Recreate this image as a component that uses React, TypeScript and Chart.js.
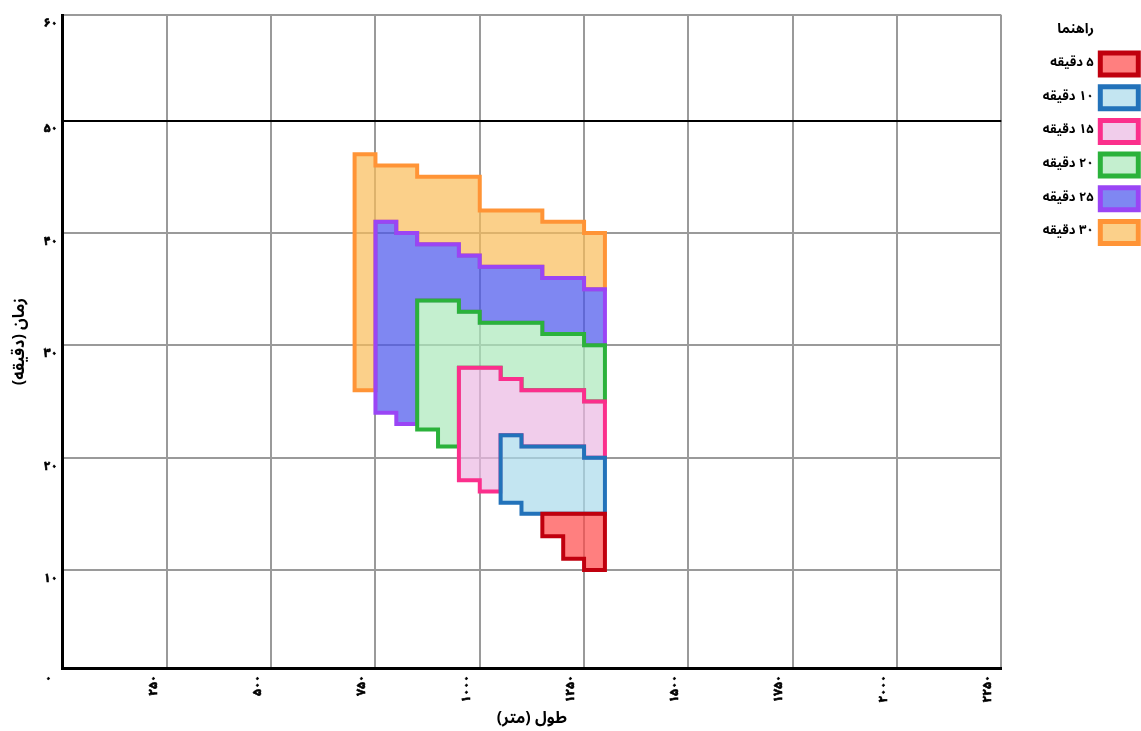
import React, { useEffect, useRef } from 'react';
import { Chart, registerables } from 'chart.js';

Chart.register(...registerables);

const FONT = '"Noto Sans Arabic", "Noto Naskh Arabic", Vazirmatn, "DejaVu Sans", sans-serif';

// distance bins (metres), each 50 m wide
const binStarts = [700, 750, 800, 850, 900, 950, 1000, 1050, 1100, 1150, 1200, 1250];
const binWidth = 50;

const seriesLabels = ['۵ دقیقه', '۱۰ دقیقه', '۱۵ دقیقه', '۲۰ دقیقه', '۲۵ دقیقه', '۳۰ دقیقه'];

const N = null;
// upper / lower time (minutes) of each band per distance bin
const top5 = [N, N, N, N, N, N, N, N, N, 15, 15, 15];
const bottom5 = [N, N, N, N, N, N, N, N, N, 13, 11, 10];
const top10 = [N, N, N, N, N, N, N, 22, 21, 21, 21, 20];
const bottom10 = [N, N, N, N, N, N, N, 16, 15, 15, 15, 15];
const top15 = [N, N, N, N, N, 28, 28, 27, 26, 26, 26, 25];
const bottom15 = [N, N, N, N, N, 18, 17, 22, 21, 21, 21, 20];
const top20 = [N, N, N, 34, 34, 33, 32, 32, 32, 31, 31, 30];
const bottom20 = [N, N, N, 22.5, 21, 28, 28, 27, 26, 26, 26, 25];
const top25 = [N, 41, 40, 39, 39, 38, 37, 37, 37, 36, 36, 35];
const bottom25 = [N, 24, 23, 34, 34, 33, 32, 32, 32, 31, 31, 30];
const top30 = [47, 46, 46, 45, 45, 45, 42, 42, 42, 41, 41, 40];
const bottom30 = [26, 41, 40, 39, 39, 38, 37, 37, 37, 36, 36, 35];

const borderColors = ['#c0000e', '#2272ba', '#fb2f8c', '#2bb23b', '#9a45f5', '#ff9436'];
const fillColors = [
  'rgba(255,72,72,0.7)',
  'rgba(169,218,235,0.7)',
  'rgba(235,184,226,0.7)',
  'rgba(171,232,186,0.7)',
  'rgba(72,84,236,0.7)',
  'rgba(249,188,88,0.7)',
];

const xTickValues = [0, 250, 500, 750, 1000, 1250, 1500, 1750, 2000, 2250];
const xTickLabels = ['۰', '۲۵۰', '۵۰۰', '۷۵۰', '۱۰۰۰', '۱۲۵۰', '۱۵۰۰', '۱۷۵۰', '۲۰۰۰', '۲۲۵۰'];
const yMin = 1.27;
const yMax = 59.4;
const yTickValues = [10, 20, 30, 40, 50, yMax];
const yTickLabels = ['۱۰', '۲۰', '۳۰', '۴۰', '۵۰', '۶۰'];

const xTitle = 'طول (متر)';
const yTitle = 'زمان (دقیقه)';
const legendTitle = 'راهنما';

type Pt = { x: number; y: number };

function outline(top: (number | null)[], bottom: (number | null)[]): Pt[] {
  const idx: number[] = [];
  top.forEach((v, i) => { if (v !== null) idx.push(i); });
  const raw: Pt[] = [];
  const first = idx[0];
  raw.push({ x: binStarts[first], y: bottom[first] as number });
  for (const i of idx) {
    raw.push({ x: binStarts[i], y: top[i] as number });
    raw.push({ x: binStarts[i] + binWidth, y: top[i] as number });
  }
  for (const i of [...idx].reverse()) {
    raw.push({ x: binStarts[i] + binWidth, y: bottom[i] as number });
    raw.push({ x: binStarts[i], y: bottom[i] as number });
  }
  const pts: Pt[] = [];
  for (const p of raw) {
    const last = pts[pts.length - 1];
    if (!last || last.x !== p.x || last.y !== p.y) pts.push(p);
  }
  return pts;
}

const bands = [
  [top5, bottom5],
  [top10, bottom10],
  [top15, bottom15],
  [top20, bottom20],
  [top25, bottom25],
  [top30, bottom30],
];

const LEGEND_WIDTH = 148.7;

const legendWidthPlugin = {
  id: 'legendWidth',
  beforeUpdate(chart: any) {
    const lg = chart.legend;
    if (lg && !lg.__patched) {
      const orig = lg.fit;
      lg.fit = function () {
        orig.call(this);
        this.width = LEGEND_WIDTH;
      };
      lg.__patched = true;
    }
  },
};

export default function App() {
  const ref = useRef<HTMLCanvasElement>(null);
  useEffect(() => {
    document.body.style.margin = '0';
    const datasets = bands.map(([t, b], k) => ({
      label: seriesLabels[k],
      data: outline(t, b),
      borderColor: borderColors[k],
      backgroundColor: fillColors[k],
      borderWidth: 4,
      fill: 'shape',
      pointRadius: 0,
      pointHoverRadius: 0,
      tension: 0,
      borderJoinStyle: 'miter',
      borderCapStyle: 'square',
    }));
    const chart = new Chart(ref.current as HTMLCanvasElement, {
      type: 'line',
      data: { datasets } as any,
      plugins: [legendWidthPlugin],
      options: {
        responsive: false,
        animation: false,
        events: [],
        layout: { padding: { top: 15, left: 0, right: -9, bottom: 0.4 } },
        plugins: {
          tooltip: { enabled: false },
          legend: {
            position: 'right',
            align: 'start',
            rtl: true,
            textDirection: 'rtl',
            title: {
              display: true,
              text: legendTitle,
              color: '#000',
              font: { family: FONT, size: 14, weight: 'bold' },
              padding: { top: 9, bottom: 0.5 },
            },
            labels: {
              boxWidth: 38,
              boxHeight: 22,
              padding: 11.7,
              color: '#000',
              font: { family: FONT, size: 13, weight: 'bold' },
              generateLabels: (c: any) =>
                (Chart.defaults.plugins.legend.labels.generateLabels as any)(c).map((l: any) => ({ ...l, lineWidth: 5 })),
            },
          },
        },
        scales: {
          x: {
            type: 'linear',
            min: 0,
            max: 2250,
            afterBuildTicks: (axis: any) => { axis.ticks = xTickValues.map((v) => ({ value: v })); },
            grid: { color: '#9a9a9a', lineWidth: 2, drawTicks: false },
            border: { color: '#000', width: 3 },
            ticks: {
              autoSkip: false,
              maxRotation: 90,
              minRotation: 90,
              labelOffset: -12,
              padding: 7,
              color: '#000',
              textStrokeColor: '#000',
              textStrokeWidth: 0.6,
              font: { family: FONT, size: 12, weight: 'bold' },
              callback: (_v: any, i: number) => xTickLabels[i],
            },
            title: {
              display: true,
              text: xTitle,
              color: '#000',
              font: { family: FONT, size: 16, weight: 'bold' },
              padding: { top: 1.8, bottom: 0 },
            },
          },
          y: {
            type: 'linear',
            min: yMin,
            max: yMax,
            afterBuildTicks: (axis: any) => { axis.ticks = yTickValues.map((v) => ({ value: v })); },
            grid: {
              color: (ctx: any) => (ctx.tick && ctx.tick.value === 50 ? '#000' : '#9a9a9a'),
              lineWidth: 2,
              drawTicks: false,
            },
            border: { color: '#000', width: 3 },
            ticks: {
              labelOffset: 10,
              padding: 5,
              color: '#000',
              textStrokeColor: '#000',
              textStrokeWidth: 0.6,
              font: { family: FONT, size: 12, weight: 'bold' },
              callback: (_v: any, i: number) => yTickLabels[i],
            },
            title: {
              display: true,
              text: yTitle,
              color: '#000',
              font: { family: FONT, size: 16, weight: 'bold' },
              padding: { top: 12, bottom: 7.6 },
            },
          },
        },
      } as any,
    });
    return () => chart.destroy();
  }, []);
  return <canvas ref={ref} width={1141} height={731} style={{ display: 'block' }} />;
}
